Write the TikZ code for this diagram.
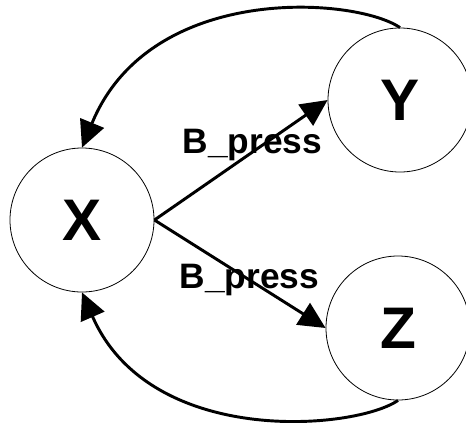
\documentclass[tikz,border=0pt]{standalone}
\usepackage{fontspec}
\setmainfont{Liberation Sans}
\usetikzlibrary{arrows.meta}

\begin{document}
\begin{tikzpicture}[x=0.75pt, y=-0.75pt,
      state/.style={circle, draw, line width=0.6pt, minimum size=108pt,
                    inner sep=0pt, font=\fontsize{44}{48}\selectfont\bfseries},
      trans/.style={line width=2.2pt, -{Triangle[length=20pt, width=19pt]}},
      lbl/.style={inner sep=0pt, font=\fontsize{26.5}{30}\selectfont\bfseries}]
    \useasboundingbox (0,0) rectangle (466,422);
    \node[state] (x) at (82,220) {X};
    \node[state] (y) at (400,100) {Y};
    \node[state] (z) at (398,328) {Z};
    \draw[trans] (x.east) -- node[lbl, pos=0.566, yshift=5pt] {B\_press} (y.west);
    \draw[trans] (x.east) -- node[lbl, pos=0.555] {B\_press} (z.west);
    \draw[trans] (y.north) .. controls (355,-3) and (150,-18) .. (x.north);
    \draw[trans] (z.south) .. controls (355,430) and (150,448) .. (x.south);
  \end{tikzpicture}
\end{document}
